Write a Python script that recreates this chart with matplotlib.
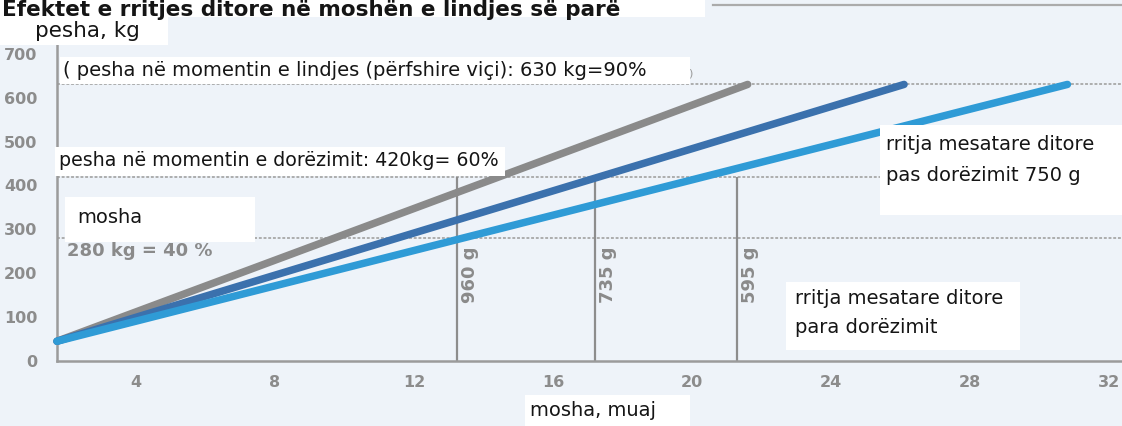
import matplotlib
matplotlib.use("Agg")
import matplotlib.pyplot as plt
from matplotlib.patches import Rectangle
from matplotlib.lines import Line2D

# ---------------- data ----------------
series_labels = ["960 g", "735 g", "595 g"]
start_month = [1.73, 1.73, 1.73]
start_weight = [45, 45, 45]
end_month = [21.6, 26.1, 30.8]
end_weight = [630, 630, 630]
series_colors = ["#8a8a8a", "#3b71ad", "#2f9bd6"]

calving_month = [13.25, 17.2, 21.3]     # vertical markers
calving_weight = 420

ref_weights = [630, 420, 280]           # dotted reference lines

xticks = [4, 8, 12, 16, 20, 24, 28, 32]
yticks = [0, 100, 200, 300, 400, 500, 600, 700]

title_text = "Efektet e rritjes ditore në moshën e lindjes së parë"
ylabel_text = "pesha, kg"
xlabel_text = "mosha, muaj"
note_birth = "( pesha në momentin e lindjes (përfshire viçi): 630 kg=90%"
note_insem = "pesha në momentin e dorëzimit: 420kg= 60%"
note_age = "mosha"
note_280 = "280 kg = 40 %"
note_after = "rritja mesatare ditore\npas dorëzimit 750 g"
note_before = "rritja mesatare ditore\npara dorëzimit"

# ---------------- layout helpers ----------------
W, H = 1122, 426
def fx(px):
    return px / W
def fy(py):
    return 1 - py / H

BG = "#eef3f9"
fig = plt.figure(figsize=(W / 100, H / 100), dpi=100, facecolor=BG)

ax_l, ax_b, ax_r, ax_t = 57, 361, 1122, 45
ax = fig.add_axes([fx(ax_l), fy(ax_b), fx(ax_r - ax_l), (ax_b - ax_t) / H])
ax.set_facecolor("none")
ax.set_xlim(1.73, 32.37)
ax.set_ylim(0, (ax_b - ax_t) / 0.439)

for s in ["top", "right"]:
    ax.spines[s].set_visible(False)
for s in ["left", "bottom"]:
    ax.spines[s].set_color("#9b9b9b")
    ax.spines[s].set_linewidth(1.8)

ax.set_xticks(xticks)
ax.set_yticks(yticks)
ax.tick_params(length=0, colors="#8c8c8c", labelsize=11.5)
ax.tick_params(axis="y", pad=14)
ax.tick_params(axis="x", pad=10)
for lab in ax.get_xticklabels() + ax.get_yticklabels():
    lab.set_fontweight("bold")

# dotted reference lines
for w in ref_weights:
    ax.axhline(w, color="#a8a8a8", lw=1.3, ls=(0, (1.6, 1.0)), zorder=1)

# vertical markers up to calving weight
for m in calving_month:
    ax.plot([m, m], [0, calving_weight], color="#8d8d8d", lw=1.6, zorder=2,
            solid_capstyle="butt")

# growth lines
for sm, sw, em, ew, c in zip(start_month, start_weight, end_month, end_weight, series_colors):
    ax.plot([sm, em], [sw, ew], color=c, lw=5.4, solid_capstyle="round", zorder=3,
            clip_on=False)

# rotated gram labels
for m, lab in zip(calving_month, series_labels):
    ax.annotate(lab, xy=(m, 0), xycoords="data", xytext=(13, 86),
                textcoords="offset pixels", rotation=90, ha="center", va="center",
                fontsize=13, fontweight="bold", color="#8a8a8a", zorder=4)

# ---------------- white boxes & notes ----------------
def wbox(x0, y0, x1, y1, z=5):
    fig.patches.append(Rectangle((fx(x0), fy(y1)), fx(x1 - x0), (y1 - y0) / H,
                                 transform=fig.transFigure, facecolor="white",
                                 edgecolor="none", zorder=z))

def ftext(x, y, s, **kw):
    kw.setdefault("fontsize", 14)
    kw.setdefault("color", "#151515")
    kw.setdefault("va", "center")
    kw.setdefault("ha", "left")
    kw.setdefault("zorder", 6)
    fig.text(fx(x), fy(y), s, **kw)

# title strip
wbox(0, 0, 705, 17)
ftext(2, 15.5, title_text, fontsize=15.5, fontweight="bold", va="baseline")
fig.lines.append(Line2D([fx(713), 1], [fy(5), fy(5)], transform=fig.transFigure,
                        color="#ababab", lw=1.6))

# y label
wbox(0, 17, 168, 45)
ftext(35, 31, ylabel_text, fontsize=15.5)

# birth weight note
wbox(60, 57, 690, 84)
ftext(63, 71, note_birth)
ftext(688, 73, ")", fontsize=8, color="#999999")

# insemination note
wbox(55, 147, 505, 176)
ftext(59, 161, note_insem, fontsize=13.7)

# age note
wbox(65, 197, 255, 242)
ftext(77, 218, note_age)

ftext(67, 251, note_280, fontsize=13, fontweight="bold", color="#8a8a8a", zorder=4)

# after-calving note
wbox(880, 125, 1122, 215)
ftext(886, 160, note_after, linespacing=1.75)

# before-calving note
wbox(786, 282, 1020, 350)
ftext(795, 313, note_before, linespacing=1.7)

# x label
wbox(525, 395, 690, 426)
ftext(593, 410, xlabel_text, ha="center")

fig.savefig("out.png", dpi=100, facecolor=BG)
